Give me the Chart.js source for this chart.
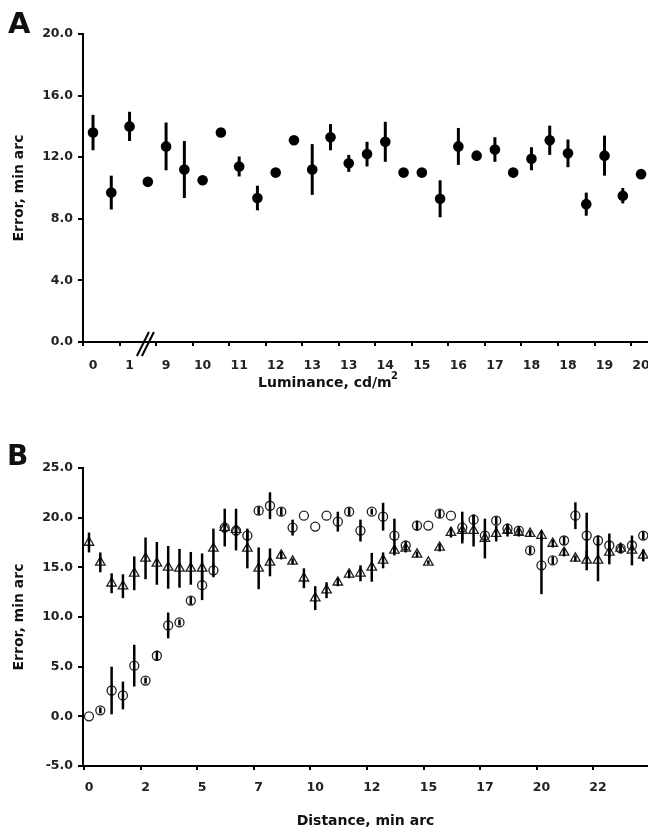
<!DOCTYPE html>
<html><head><meta charset="utf-8">
<script src="https://cdn.jsdelivr.net/npm/chart.js@4.4.0/dist/chart.umd.min.js"></script>
<style>
html,body{margin:0;padding:0;background:#fff;}
#wrap{position:relative;width:648px;height:833px;overflow:hidden;background:#fff;}
#ca{position:absolute;left:0;top:0;}
#cb{position:absolute;left:0;top:400px;}
</style></head><body>
<div id="wrap"><canvas id="ca" width="648" height="400"></canvas><canvas id="cb" width="648" height="433"></canvas></div>
<script>
// ---------- Panel A data ----------
const lumTickLabels = ['0','1','9','10','11','12','13','13','14','15','16','17','18','18','19','20'];
const lumX = [0,0.5,1,1.5,2,2.5,3,3.5,4,4.5,5,5.5,6,6.5,7,7.5,8,8.5,9,9.5,10,10.5,11,11.5,12,12.5,13,13.5,14,14.5,15];
const lumError = [13.6,9.7,14.0,10.4,12.7,11.2,10.5,13.6,11.4,9.35,11.0,13.1,11.2,13.3,11.6,12.2,13.0,11.0,11.0,9.3,12.7,12.1,12.5,11.0,11.9,13.1,12.25,8.95,12.1,9.5,10.9];
const lumSD = [1.15,1.1,0.95,0,1.55,1.85,0,0,0.65,0.8,0,0,1.65,0.85,0.55,0.8,1.3,0,0,1.2,1.2,0,0.8,0,0.75,0.95,0.9,0.75,1.3,0.5,0];
const errTicksA = {min:0, max:20, step:4};

// ---------- Panel B data ----------
const distTickLabels = ['0','2','5','7','10','12','15','17','20','22'];
const distX = [0,0.5,1,1.5,2,2.5,3,3.5,4,4.5,5,5.5,6,6.5,7,7.5,8,8.5,9,9.5,10,10.5,11,11.5,12,12.5,13,13.5,14,14.5,15,15.5,16,16.5,17,17.5,18,18.5,19,19.5,20,20.5,21,21.5,22,22.5,23,23.5,24,24.5];
const triMean = [17.5,15.5,13.4,13.1,14.4,15.9,15.4,15.0,14.9,14.9,14.9,16.9,19.0,18.8,16.9,14.9,15.5,16.2,15.6,13.9,11.9,12.7,13.5,14.3,14.4,15.0,15.7,16.7,16.9,16.3,15.5,17.0,18.5,18.7,18.7,17.9,18.4,18.7,18.5,18.4,18.2,17.4,16.5,15.9,15.7,15.7,16.5,16.9,16.7,16.2];
const triSD = [1.0,1.0,1.0,1.2,1.7,2.1,2.15,2.15,1.95,1.65,1.5,2.0,1.9,2.1,2.0,2.1,1.4,0.4,0.3,1.0,1.2,0.8,0.4,0.4,0.8,1.45,0.8,0.5,0.4,0.3,0.2,0.4,0.5,1.0,1.6,2.0,0.8,0.6,0.4,0.3,0.5,0.4,0.4,0.3,1.0,2.1,1.2,0.5,1.5,0.6];
const circMean = [0.0,0.6,2.6,2.1,5.1,3.6,6.1,9.15,9.45,11.65,13.2,14.7,19.0,18.7,18.2,20.7,21.2,20.6,19.0,20.2,19.1,20.2,19.6,20.6,18.7,20.6,20.1,18.2,17.2,19.2,19.2,20.4,20.2,19.0,19.8,18.2,19.7,18.9,18.7,16.7,15.2,15.7,17.7,20.2,18.2,17.7,17.2,16.9,17.2,18.2];
const circSD = [0,0.3,2.4,1.4,2.1,0.3,0.5,1.3,0.3,0.4,1.5,0.7,0.5,0.5,0.5,0.4,1.35,0.4,0.8,0,0,0,1.0,0.4,1.1,0.3,1.4,1.7,0.4,0.5,0,0.4,0,1.6,0.5,0.4,0.4,0.5,0.4,0.4,2.9,0.4,0.4,1.35,2.3,0.5,1.2,0.3,0.4,0.4];
const errTicksB = {min:-5, max:25, step:5};

// ---------- shared ----------
const FONT = 'DejaVu Sans';
Chart.defaults.font.family = FONT;
Chart.defaults.color = '#1a1a1a';
Chart.defaults.animation = false;

const errorBarPlugin = {
  id: 'errorBars',
  afterDatasetsDraw(chart) {
    const ctx = chart.ctx, ys = chart.scales.y;
    chart.data.datasets.forEach((ds, i) => {
      if (!ds.errors) return;
      const meta = chart.getDatasetMeta(i);
      ctx.save();
      ctx.strokeStyle = '#000';
      ctx.lineWidth = ds.errorWidth || 2.5;
      meta.data.forEach((pt, j) => {
        const e = ds.errors[j];
        if (!e) return;
        const v = ds.data[j].y;
        ctx.beginPath();
        ctx.moveTo(pt.x, ys.getPixelForValue(v + e));
        ctx.lineTo(pt.x, ys.getPixelForValue(v - e));
        ctx.stroke();
      });
      ctx.restore();
    });
  }
};

function yAxis(t) {
  return {
    type: 'linear', position: 'left', min: t.min, max: t.max,
    ticks: { stepSize: t.step, callback: v => Number(v).toFixed(1), font: { size: 12.5, weight: 'bold' }, color: '#222', padding: 5 },
    grid: { drawOnChartArea: false, drawTicks: true, tickLength: 5, color: '#000', lineWidth: 2 },
    border: { display: true, color: '#000', width: 2 },
    title: { display: true, text: 'Error, min arc', font: { size: 14, weight: 'bold' }, color: '#111', padding: { top: 11, bottom: 0 } },
    afterFit(s) { s.width = 83; s.paddingTop = 0; s.paddingBottom = 0; }
  };
}

// ---------- Chart A ----------
const textA = {
  id: 'textA',
  afterDraw(chart) {
    const c = chart.ctx;
    c.save();
    c.fillStyle = '#111';
    c.textBaseline = 'alphabetic';
    c.textAlign = 'left';
    c.font = 'bold 29px ' + FONT;
    c.fillText('A', 8, 33);
    c.font = 'bold 14px ' + FONT;
    c.fillText('Luminance, cd/m', 258, 387);
    c.font = 'bold 10px ' + FONT;
    c.fillText('2', 391, 379);
    // axis break marks
    const xs = chart.scales.x, yb = chart.chartArea.bottom;
    const bx = xs.getPixelForValue(1.42);
    c.strokeStyle = '#000';
    c.lineWidth = 2;
    [[-8, 1], [-3, 6]].forEach(([a, b]) => {
      c.beginPath();
      c.moveTo(bx + a, yb + 14);
      c.lineTo(bx + b + 3, yb - 10);
      c.stroke();
    });
    c.restore();
  }
};

new Chart(document.getElementById('ca'), {
  type: 'scatter',
  data: {
    datasets: [{
      data: lumX.map((x, i) => ({ x, y: lumError[i] })),
      errors: lumSD, errorWidth: 3,
      pointRadius: 5.3, pointBackgroundColor: '#000', pointBorderColor: '#000', pointBorderWidth: 0,
      showLine: false, clip: false
    }]
  },
  options: {
    responsive: false, animation: false,
    layout: { autoPadding: false, padding: { top: 34, left: 0, right: 0, bottom: 0 } },
    plugins: { legend: { display: false }, tooltip: { enabled: false } },
    scales: {
      x: {
        type: 'linear', min: -0.274, max: 15.19,
        afterBuildTicks(s) { s.ticks = lumTickLabels.map((l, k) => ({ value: k - 0.274 })); },
        ticks: { autoSkip: false, maxRotation: 0, labelOffset: 10, padding: 12, callback: (v, i) => lumTickLabels[i], font: { size: 12.5, weight: 'bold' }, color: '#222' },
        grid: { drawOnChartArea: false, drawTicks: true, tickLength: 4, color: '#000', lineWidth: 2 },
        border: { display: true, color: '#000', width: 2 },
        afterFit(s) { s.height = 58; s.paddingLeft = 0; s.paddingRight = 0; }
      },
      y: yAxis(errTicksA)
    }
  },
  plugins: [errorBarPlugin, textA]
});

// ---------- Chart B ----------
const textB = {
  id: 'textB',
  afterDraw(chart) {
    const c = chart.ctx;
    c.save();
    c.fillStyle = '#111';
    c.textAlign = 'left';
    c.textBaseline = 'alphabetic';
    c.font = 'bold 28px ' + FONT;
    c.fillText('B', 7, 65);
    c.restore();
  }
};

new Chart(document.getElementById('cb'), {
  type: 'scatter',
  data: {
    datasets: [
      {
        data: distX.map((x, i) => ({ x, y: circMean[i] })),
        errors: circSD, errorWidth: 2.5,
        pointStyle: 'circle', pointRadius: 4.5,
        pointBackgroundColor: 'rgba(255,255,255,0)', pointBorderColor: '#222', pointBorderWidth: 1.3,
        showLine: false, clip: false
      },
      {
        data: distX.map((x, i) => ({ x, y: triMean[i] })),
        errors: triSD, errorWidth: 2.5,
        pointStyle: 'triangle', pointRadius: 5.5,
        pointBackgroundColor: 'rgba(255,255,255,0)', pointBorderColor: '#222', pointBorderWidth: 1.3,
        showLine: false, clip: false
      }
    ]
  },
  options: {
    responsive: false, animation: false,
    layout: { autoPadding: false, padding: { top: 68, left: 0, right: 0, bottom: 0 } },
    plugins: { legend: { display: false }, tooltip: { enabled: false } },
    scales: {
      x: {
        type: 'linear', min: -0.265, max: 24.71,
        afterBuildTicks(s) { s.ticks = distTickLabels.map((l, k) => ({ value: 2.5 * k - 0.21 })); },
        ticks: { autoSkip: false, maxRotation: 0, labelOffset: 4.8, padding: 10.5, callback: (v, i) => distTickLabels[i], font: { size: 12.5, weight: 'bold' }, color: '#222' },
        grid: { drawOnChartArea: false, drawTicks: true, tickLength: 4, color: '#000', lineWidth: 2 },
        border: { display: true, color: '#000', width: 2 },
        title: { display: true, text: 'Distance, min arc', font: { size: 14, weight: 'bold' }, color: '#111', padding: { top: 0, bottom: 3 } },
        afterFit(s) { s.height = 67; s.paddingLeft = 0; s.paddingRight = 0; }
      },
      y: yAxis(errTicksB)
    }
  },
  plugins: [errorBarPlugin, textB]
});
</script>
</body></html>
